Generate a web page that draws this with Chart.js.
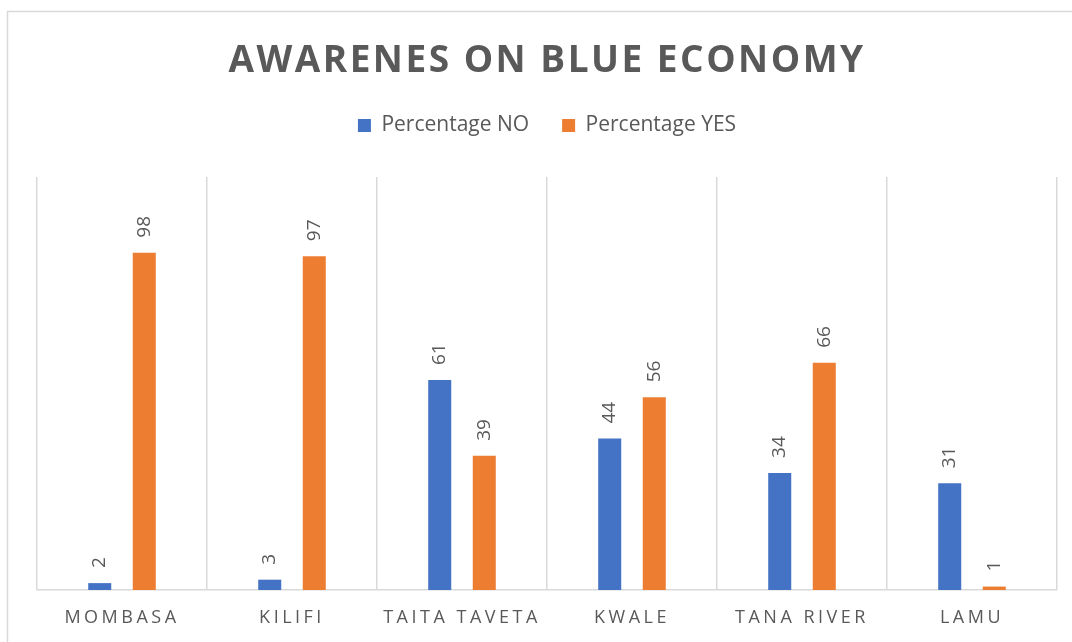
<!DOCTYPE html>
<html><head><meta charset="utf-8">
<script src="https://cdn.jsdelivr.net/npm/chart.js@4"></script>
<style>html,body{margin:0;padding:0;background:#fff;} #wrap{width:1072px;height:642px;position:relative;}</style>
</head><body><div id="wrap"><canvas id="c"></canvas></div>
<script>
const categories = ['MOMBASA','KILIFI','TAITA TAVETA','KWALE','TANA RIVER','LAMU'];
const percentageNo = [2,3,61,44,34,31];
const percentageYes = [98,97,39,56,66,1];
const seriesNames = ['Percentage NO','Percentage YES'];
const chartTitle = 'AWARENES ON BLUE ECONOMY';

const GRAY_TEXT = '#595959';
const LINE = '#d9d9d9';

class SpacedCategoryScale extends Chart.CategoryScale {
  drawLabels(area) {
    const ctx = this.ctx;
    ctx.save();
    ctx.letterSpacing = '3.5px';
    super.drawLabels(area);
    ctx.restore();
  }
}
SpacedCategoryScale.id = 'spacedCategory';
SpacedCategoryScale.defaults = Chart.CategoryScale.defaults;
Chart.register(SpacedCategoryScale);

const frame = {
  id: 'frame',
  beforeDraw(chart) {
    const ctx = chart.ctx;
    ctx.save();
    ctx.strokeStyle = LINE;
    ctx.lineWidth = 1.5;
    ctx.beginPath();
    ctx.moveTo(7.5, 642);
    ctx.lineTo(7.5, 11.5);
    ctx.lineTo(1072, 11.5);
    ctx.stroke();
    ctx.restore();
  }
};

const titleDraw = {
  id: 'titleDraw',
  afterDraw(chart) {
    const ctx = chart.ctx;
    ctx.save();
    ctx.font = 'bold 37px "Open Sans"';
    ctx.letterSpacing = '2.5px';
    ctx.fillStyle = GRAY_TEXT;
    ctx.textAlign = 'center';
    ctx.textBaseline = 'alphabetic';
    ctx.fillText(chartTitle, 547, 72);
    ctx.restore();
  }
};

const valueLabels = {
  id: 'valueLabels',
  afterDatasetsDraw(chart) {
    const ctx = chart.ctx;
    ctx.save();
    ctx.font = '19px "Open Sans"';
    ctx.fillStyle = GRAY_TEXT;
    ctx.textAlign = 'left';
    ctx.textBaseline = 'middle';
    chart.data.datasets.forEach((ds, di) => {
      const meta = chart.getDatasetMeta(di);
      meta.data.forEach((el, i) => {
        ctx.save();
        ctx.translate(el.x, el.y - 15);
        ctx.rotate(-Math.PI / 2);
        ctx.fillText(String(ds.data[i]), 0, 0);
        ctx.restore();
      });
    });
    ctx.restore();
  }
};

new Chart(document.getElementById('c'), {
  type: 'bar',
  data: {
    labels: categories,
    datasets: [
      { label: seriesNames[0], data: percentageNo, backgroundColor: '#4472C4' },
      { label: seriesNames[1], data: percentageYes, backgroundColor: '#ED7D31' }
    ]
  },
  options: {
    responsive: true,
    maintainAspectRatio: false,
    animation: false,
    categoryPercentage: 0.524,
    barPercentage: 0.517,
    layout: { padding: { top: 82, left: 37, right: 15, bottom: 0 } },
    plugins: {
      title: { display: false },
      tooltip: { enabled: false },
      legend: {
        display: true,
        position: 'top',
        labels: {
          boxWidth: 13, boxHeight: 13, padding: 33,
          color: GRAY_TEXT,
          font: { family: '"Open Sans"', size: 21 }
        }
      }
    },
    scales: {
      x: {
        type: 'spacedCategory',
        position: 'bottom',
        offset: true,
        grid: { display: true, offset: true, color: LINE, lineWidth: 1.5, drawTicks: false },
        border: { display: true, color: LINE, width: 1.5 },
        ticks: { color: GRAY_TEXT, font: { family: '"Open Sans"', size: 18 }, padding: 17, autoSkip: false, maxRotation: 0 },
        afterFit(s) { s.height = 52; }
      },
      xTop: {
        type: 'category',
        position: 'top',
        display: true,
        grid: { display: false, drawTicks: false },
        border: { display: false },
        ticks: { display: false },
        afterFit(s) { s.height = 31; }
      },
      y: {
        display: false,
        min: 0,
        max: 120
      }
    }
  },
  plugins: [frame, titleDraw, valueLabels]
});
</script>
</body></html>
